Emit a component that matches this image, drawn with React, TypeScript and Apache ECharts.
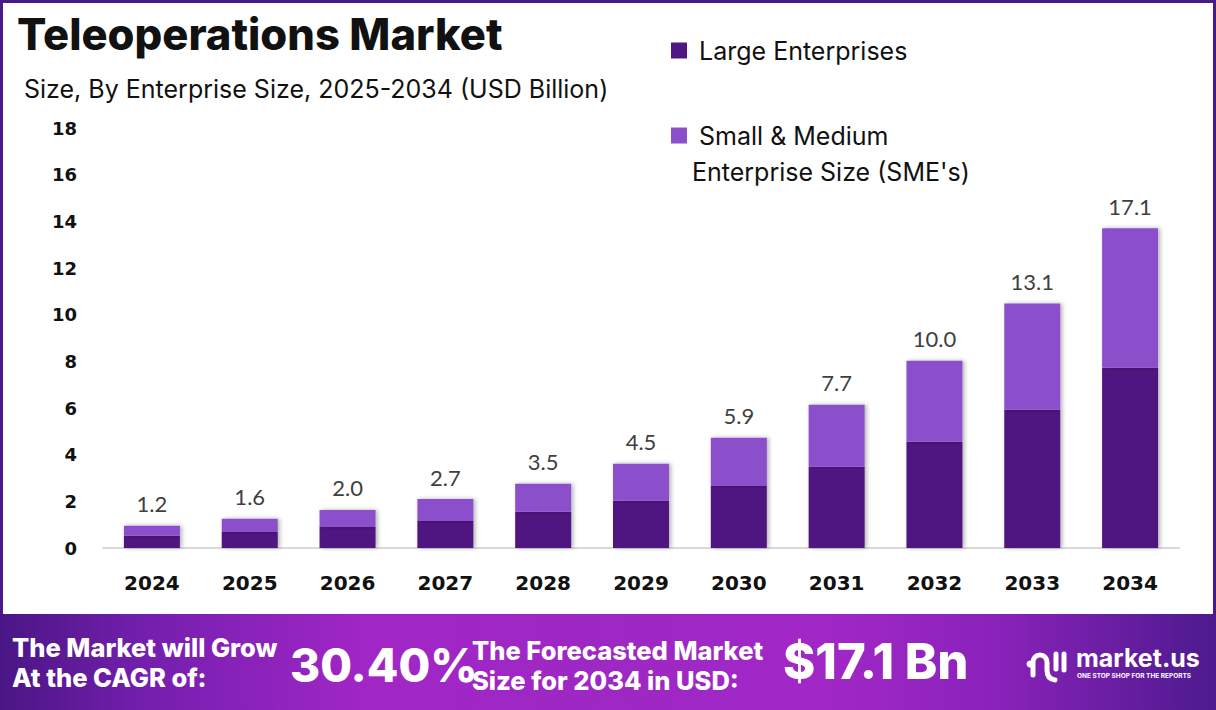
import React, { useEffect, useRef } from "react";
import * as echarts from "echarts";

const years = ["2024", "2025", "2026", "2027", "2028", "2029", "2030", "2031", "2032", "2033", "2034"];
const largeEnterprises = [0.53, 0.69, 0.9, 1.16, 1.55, 2.02, 2.66, 3.48, 4.55, 5.93, 7.73];
const smeValues = [0.42, 0.56, 0.73, 0.94, 1.2, 1.59, 2.07, 2.66, 3.48, 4.55, 5.97];
const totalLabels = ["1.2", "1.6", "2.0", "2.7", "3.5", "4.5", "5.9", "7.7", "10.0", "13.1", "17.1"];
const yTicks = { min: 0, max: 18, interval: 2 };

const LARGE_NAME = "Large Enterprises";
const SME_NAME = "Small & Medium Enterprise Size (SME's)";

const LOGO_D =
  "M8 26 L8 13 A7 7 0 0 1 22 13 L22 21 Q22 30 30 31 M31 5 L31 20 M39 5 L39 21";

export default function App() {
  const ref = useRef<HTMLDivElement>(null);
  useEffect(() => {
    document.body.style.margin = "0";
    try {
      echarts.graphic.registerShape("mlogo", echarts.graphic.extendPath(LOGO_D, {}));
    } catch (e) {}
    const chart = echarts.init(ref.current!, null, { renderer: "svg" });
    const bannerShadow = {
      shadowColor: "rgba(40,0,70,0.55)",
      shadowBlur: 4,
      shadowOffsetX: 2,
      shadowOffsetY: 3,
    };
    const option: any = {
      animation: false,
      backgroundColor: "#ffffff",
      grid: { left: 103, right: 37, top: 128, bottom: 162, containLabel: false },
      legend: [
        {
          data: [LARGE_NAME],
          left: 666,
          top: 33,
          icon: "rect",
          itemWidth: 16,
          itemHeight: 16,
          formatter: () => " Large Enterprises",
          textStyle: { fontFamily: "Inter", fontSize: 25, color: "#111" },
          selectedMode: false,
        },
        {
          data: [SME_NAME],
          left: 666,
          top: 118,
          icon: "rect",
          itemWidth: 16,
          itemHeight: 16,
          formatter: () => " Small & Medium",
          textStyle: { fontFamily: "Inter", fontSize: 25, color: "#111" },
          selectedMode: false,
        },
      ],
      xAxis: {
        type: "category",
        data: years,
        axisLine: { show: true, lineStyle: { color: "#d9d9d9", width: 2 } },
        axisTick: { show: false },
        axisLabel: {
          margin: 25,
          fontFamily: "DejaVu Sans",
          fontWeight: "bold",
          fontSize: 20,
          color: "#111",
        },
      },
      yAxis: {
        type: "value",
        min: yTicks.min,
        max: yTicks.max,
        interval: yTicks.interval,
        splitLine: { show: false },
        axisLine: { show: false },
        axisTick: { show: false },
        axisLabel: {
          margin: 26,
          fontFamily: "DejaVu Sans",
          fontWeight: "bold",
          fontSize: 18,
          color: "#111",
        },
      },
      series: [
        {
          name: LARGE_NAME,
          type: "bar",
          stack: "total",
          data: largeEnterprises,
          barWidth: 56,
          itemStyle: {
            color: "#4f1781",
            shadowColor: "rgba(0,0,0,0.3)",
            shadowBlur: 4,
            shadowOffsetX: 2,
          },
        },
        {
          name: SME_NAME,
          type: "bar",
          stack: "total",
          data: smeValues,
          barWidth: 56,
          itemStyle: {
            color: "#8c4fcc",
            shadowColor: "rgba(0,0,0,0.3)",
            shadowBlur: 4,
            shadowOffsetX: 2,
          },
          label: {
            show: true,
            position: "top",
            distance: 11,
            formatter: (p: any) => totalLabels[p.dataIndex],
            fontFamily: "Lato",
            fontSize: 22,
            color: "#404040",
          },
        },
      ],
      graphic: [
        {
          type: "rect",
          z: 0,
          silent: true,
          shape: { x: 1.5, y: 1.5, width: 1213, height: 640 },
          style: { fill: "none", stroke: "#4b1a8a", lineWidth: 3 },
        },
        {
          type: "text",
          x: 17,
          y: 34,
          style: {
            text: "Teleoperations Market",
            font: "800 43.5px Inter",
            fill: "#111",
            textVerticalAlign: "middle",
          },
        },
        {
          type: "text",
          x: 24,
          y: 89,
          style: {
            text: "Size, By Enterprise Size, 2025-2034 (USD Billion)",
            font: "400 25px Inter",
            fill: "#111",
            textVerticalAlign: "middle",
          },
        },
        {
          type: "text",
          x: 692,
          y: 172,
          style: {
            text: "Enterprise Size (SME's)",
            font: "400 25px Inter",
            fill: "#111",
            textVerticalAlign: "middle",
          },
        },
        {
          type: "rect",
          silent: true,
          shape: { x: 0, y: 614, width: 1216, height: 96 },
          style: {
            fill: {
              type: "linear",
              x: 0,
              y: 0,
              x2: 1,
              y2: 0,
              colorStops: [
                { offset: 0, color: "#4a1684" },
                { offset: 0.12, color: "#741fae" },
                { offset: 0.3, color: "#a126c6" },
                { offset: 0.5, color: "#9e28c4" },
                { offset: 0.68, color: "#a127c7" },
                { offset: 0.82, color: "#8a22ba" },
                { offset: 1, color: "#4d1a8e" },
              ],
            },
          },
        },
        {
          type: "text",
          x: 12,
          y: 647,
          style: {
            text: "The Market will Grow",
            font: "800 25.5px Inter",
            fill: "#fff",
            textVerticalAlign: "middle",
            ...bannerShadow,
          },
        },
        {
          type: "text",
          x: 12,
          y: 677,
          style: {
            text: "At the CAGR of:",
            font: "800 25.5px Inter",
            fill: "#fff",
            textVerticalAlign: "middle",
            ...bannerShadow,
          },
        },
        {
          type: "text",
          x: 290,
          y: 665,
          style: {
            text: "30.40%",
            font: "800 46px Inter",
            fill: "#fff",
            textVerticalAlign: "middle",
            ...bannerShadow,
          },
        },
        {
          type: "text",
          x: 472,
          y: 650,
          style: {
            text: "The Forecasted Market",
            font: "800 25.5px Inter",
            fill: "#fff",
            textVerticalAlign: "middle",
            ...bannerShadow,
          },
        },
        {
          type: "text",
          x: 472,
          y: 680,
          style: {
            text: "Size for 2034 in USD:",
            font: "800 25.5px Inter",
            fill: "#fff",
            textVerticalAlign: "middle",
            ...bannerShadow,
          },
        },
        {
          type: "text",
          x: 783,
          y: 661,
          style: {
            text: "$17.1 Bn",
            font: "800 49px Inter",
            fill: "#fff",
            textVerticalAlign: "middle",
            ...bannerShadow,
          },
        },
        {
          type: "circle",
          shape: { cx: 1030, cy: 664, r: 3.5 },
          style: { fill: "#fff" },
        },
        {
          type: "mlogo",
          x: 1025,
          y: 649,
          style: { fill: "none", stroke: "#fff", lineWidth: 5, lineCap: "round", lineJoin: "round" },
        },
        {
          type: "text",
          x: 1076,
          y: 658,
          style: {
            text: "market.us",
            font: "700 25px Inter",
            fill: "#fff",
            textVerticalAlign: "middle",
          },
        },
        {
          type: "text",
          x: 1077,
          y: 676,
          style: {
            text: "ONE STOP SHOP FOR THE REPORTS",
            font: "700 6.5px Inter",
            fill: "#fff",
            textVerticalAlign: "middle",
          },
        },
      ],
    };
    chart.setOption(option);
    return () => chart.dispose();
  }, []);
  return <div ref={ref} style={{ width: 1216, height: 710 }} />;
}
